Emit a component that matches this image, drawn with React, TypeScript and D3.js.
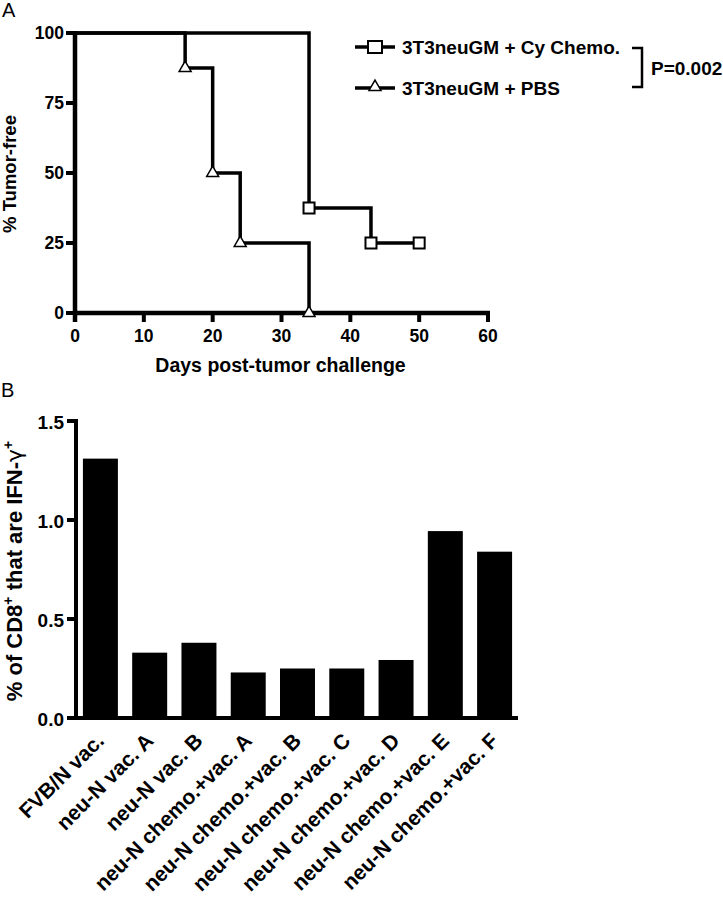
import React from "react";
import * as d3 from "d3";

// ---- Panel A data (Kaplan-Meier, % tumor-free) ----
const cyDays = [0, 34, 43, 50];
const cySurv = [100, 37.5, 25, 25];
const cyMarkers = [1, 2, 3]; // indices with markers
const pbsDays = [0, 16, 20, 24, 34];
const pbsSurv = [100, 87.5, 50, 25, 0];
const pbsMarkers = [1, 2, 3, 4];
const topXTicks = [0, 10, 20, 30, 40, 50, 60];
const topYTicks = [0, 25, 50, 75, 100];
const legendLabels = ["3T3neuGM + Cy Chemo.", "3T3neuGM + PBS"];
const pText = "P=0.002";

// ---- Panel B data (bar chart) ----
const categories = [
  "FVB/N vac.",
  "neu-N vac. A",
  "neu-N vac. B",
  "neu-N chemo.+vac. A",
  "neu-N chemo.+vac. B",
  "neu-N chemo.+vac. C",
  "neu-N chemo.+vac. D",
  "neu-N chemo.+vac. E",
  "neu-N chemo.+vac. F",
];
const barValues = [1.31, 0.33, 0.38, 0.23, 0.25, 0.25, 0.293, 0.944, 0.84];
const bottomYTicks = [0, 0.5, 1.0, 1.5];

const FONT = "'Liberation Sans', Arial, Helvetica, sans-serif";

export default function App() {
  // Panel A scales
  const xA = d3.scaleLinear().domain([0, 60]).range([75, 488]);
  const yA = d3.scaleLinear().domain([0, 100]).range([313, 33]);
  const line = d3
    .line<[number, number]>()
    .x((d) => xA(d[0]))
    .y((d) => yA(d[1]))
    .curve(d3.curveStepAfter);
  const cyPts: [number, number][] = cyDays.map((d, i) => [d, cySurv[i]]);
  const pbsPts: [number, number][] = pbsDays.map((d, i) => [d, pbsSurv[i]]);
  const tri = d3.symbol(d3.symbolTriangle, 62)()!;
  const triLeg = d3.symbol(d3.symbolTriangle, 62)()!;

  // Panel B scales
  const xB = d3.scaleBand<string>().domain(categories).range([77, 518]).paddingInner(0.29).paddingOuter(0.12);
  const yB = d3.scaleLinear().domain([0, 1.5]).range([718, 421]);

  const sq = 11;

  return (
    <svg
      width={723}
      height={900}
      style={{ position: "absolute", left: 0, top: 0, background: "#fff" }}
      fontFamily={FONT}
    >
      <rect x={0} y={0} width={723} height={900} fill="#fff" />
      {/* Panel letters */}
      <text x={2} y={17} fontSize={20}>A</text>
      <text x={1} y={397} fontSize={20}>B</text>

      {/* ---------- Panel A ---------- */}
      {/* Y axis */}
      <line x1={xA(0)} x2={xA(0)} y1={yA(100) - 2} y2={yA(0) + 9} stroke="#000" strokeWidth={4.5} />
      {topYTicks.map((t) => (
        <g key={"ya" + t}>
          <line x1={xA(0) - 9} x2={xA(0)} y1={yA(t)} y2={yA(t)} stroke="#000" strokeWidth={4} />
          <text x={64} y={yA(t) + 6} textAnchor="end" fontSize={17.5} fontWeight="bold">
            {t}
          </text>
        </g>
      ))}
      {/* X axis */}
      <line x1={xA(0)} x2={xA(60) + 2} y1={yA(0)} y2={yA(0)} stroke="#000" strokeWidth={4.5} />
      {topXTicks.map((t) => (
        <g key={"xa" + t}>
          <line x1={xA(t)} x2={xA(t)} y1={yA(0)} y2={yA(0) + 9} stroke="#000" strokeWidth={4} />
          <text x={xA(t)} y={342} textAnchor="middle" fontSize={17.5} fontWeight="bold">
            {t}
          </text>
        </g>
      ))}
      <text x={xA(30) - 1} y={372} textAnchor="middle" fontSize={19.5} fontWeight="bold">
        Days post-tumor challenge
      </text>
      <text
        transform={`translate(16,174) rotate(-90)`}
        textAnchor="middle"
        fontSize={18.5}
        fontWeight="bold"
      >
        % Tumor-free
      </text>

      {/* Curves */}
      <path d={line(pbsPts)!} fill="none" stroke="#000" strokeWidth={3.5} />
      <path d={line(cyPts)!} fill="none" stroke="#000" strokeWidth={3.5} />
      {pbsMarkers.map((i) => (
        <path
          key={"pm" + i}
          d={tri}
          transform={`translate(${xA(pbsPts[i][0])},${yA(pbsPts[i][1])})`}
          fill="#fff"
          stroke="#000"
          strokeWidth={1.5}
        />
      ))}
      {cyMarkers.map((i) => (
        <rect
          key={"cm" + i}
          x={xA(cyPts[i][0]) - sq / 2}
          y={yA(cyPts[i][1]) - sq / 2}
          width={sq}
          height={sq}
          fill="#fff"
          stroke="#000"
          strokeWidth={2}
        />
      ))}

      {/* Legend */}
      <line x1={355} x2={395} y1={47} y2={47} stroke="#000" strokeWidth={3.5} />
      <rect x={368} y={41} width={14} height={12} fill="#fff" stroke="#000" strokeWidth={2} />
      <text x={402} y={54} fontSize={19} fontWeight="bold">{legendLabels[0]}</text>
      <line x1={355} x2={395} y1={88} y2={88} stroke="#000" strokeWidth={3.5} />
      <path d={triLeg} transform="translate(375,87)" fill="#fff" stroke="#000" strokeWidth={1.5} />
      <text x={402} y={95} fontSize={19} fontWeight="bold">{legendLabels[1]}</text>
      {/* Bracket */}
      <path d="M632,48 H642 V87 H632" fill="none" stroke="#000" strokeWidth={2.5} />
      <text x={651} y={75} fontSize={19} fontWeight="bold">{pText}</text>

      {/* ---------- Panel B ---------- */}
      {categories.map((c, i) => (
        <rect
          key={"bar" + i}
          x={xB(c)!}
          y={yB(barValues[i])}
          width={xB.bandwidth()}
          height={yB(0) - yB(barValues[i])}
          fill="#000"
        />
      ))}
      <line x1={76} x2={76} y1={yB(1.5) - 2} y2={yB(0) + 2} stroke="#000" strokeWidth={4} />
      <line x1={74} x2={518} y1={yB(0)} y2={yB(0)} stroke="#000" strokeWidth={4} />
      {bottomYTicks.map((t) => (
        <g key={"yb" + t}>
          <line x1={67} x2={76} y1={yB(t)} y2={yB(t)} stroke="#000" strokeWidth={4} />
          <text x={64} y={yB(t) + 8} textAnchor="end" fontSize={19} fontWeight="bold">
            {t.toFixed(1)}
          </text>
        </g>
      ))}
      {categories.map((c, i) => (
        <text
          key={"lab" + i}
          transform={`translate(${xB(c)! + xB.bandwidth() / 2 + 5},742) rotate(-45)`}
          textAnchor="end"
          fontSize={21}
          fontWeight="bold"
        >
          {c}
        </text>
      ))}
      <text
        transform={`translate(22,571) rotate(-90)`}
        textAnchor="middle"
        fontSize={22}
        fontWeight="bold"
      >
        % of CD8
        <tspan fontSize={14} dy={-9}>+</tspan>
        <tspan dy={9}> that are IFN-</tspan>
        <tspan fontWeight="normal" fontFamily="'DejaVu Sans', sans-serif">γ</tspan>
        <tspan fontSize={14} dy={-9}>+</tspan>
      </text>
    </svg>
  );
}
